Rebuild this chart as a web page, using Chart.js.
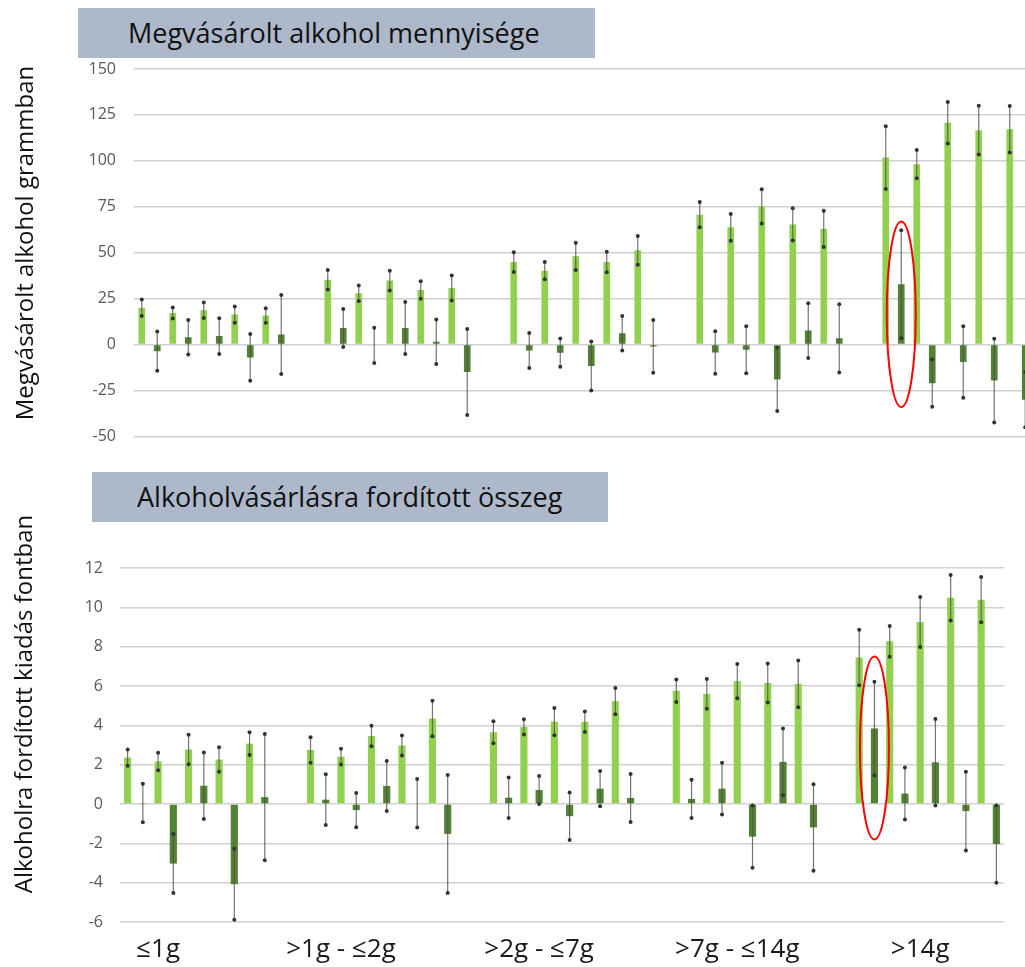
<!DOCTYPE html>
<html>
<head>
<meta charset="utf-8">
<script src="https://cdn.jsdelivr.net/npm/chart.js@4.4.1/dist/chart.umd.min.js"></script>
<style>
  html, body { margin: 0; padding: 0; background: #fff; }
  body { width: 1025px; height: 967px; overflow: hidden; position: relative; font-family: "Open Sans", sans-serif; }
  canvas { position: absolute; left: 0; }
  #amountChart { top: 0; }
  #spendChart { top: 460px; }
  .titleBox { position: absolute; background: #adb9ca; color: #111; font-size: 27px; height: 50px; line-height: 50px; white-space: nowrap; z-index: 2; }
  .axisTitle { position: absolute; transform: translate(-50%, -50%) rotate(-90deg); white-space: nowrap; color: #111; z-index: 2; font-size: 24px; }
</style>
</head>
<body>
<div class="titleBox" style="left:78px; top:8px; width:467px; padding-left:50px;">Megvásárolt alkohol mennyisége</div>
<div class="titleBox" style="left:92px; top:472px; width:471px; padding-left:45px;">Alkoholvásárlásra fordított összeg</div>
<div class="axisTitle" style="left:23px; top:243px;">Megvásárolt alkohol grammban</div>
<div class="axisTitle" style="left:22px; top:704px;">Alkoholra fordított kiadás fontban</div>

<canvas id="amountChart" width="1040" height="464" style="width:1040px;height:464px"></canvas>
<canvas id="spendChart" width="1025" height="507" style="width:1025px;height:507px"></canvas>

<script>
// group labels (x axis)
const groupLabels = ["≤1g", ">1g - ≤2g", ">2g - ≤7g", ">7g - ≤14g", ">14g"];

// top panel: alcohol bought (grams), 5 pairs per group
const amountLight = [
  20, 17.2, 18.7, 16.3, 15.8,
  35.3, 27.9, 34.8, 29.7, 30.8,
  44.9, 40.2, 48, 44.9, 51.3,
  70.7, 63.8, 75.2, 65.4, 63,
  101.8, 98.2, 120.7, 116.7, 117.2
];
const amountLightErr = [
  4.5, 3, 4.2, 4.4, 3.9,
  5.3, 4.2, 5.4, 4.8, 6.8,
  5.4, 4.7, 7.4, 5.6, 7.8,
  6.9, 7.3, 9.3, 8.8, 9.9,
  17.1, 7.7, 11.3, 13.3, 12.6
];
const amountDark = [
  -3.6, 4, 4.6, -7, 5.5,
  9, -0.4, 9, 1.5, -15,
  -3.2, -4.4, -11.7, 6.2, -1,
  -4.3, -2.8, -19, 7.6, 3.4,
  32.8, -21, -9.5, -19.6, -30
];
const amountDarkErr = [
  10.7, 9.4, 9.7, 12.7, 21.5,
  10.4, 9.6, 14.2, 12.1, 23.4,
  9.5, 7.7, 13.3, 9.4, 14.3,
  11.6, 12.8, 17.2, 14.9, 18.6,
  29.4, 12.9, 19.5, 22.8, 15
];

// bottom panel: money spent (pounds)
const spendLight = [
  2.36, 2.16, 2.77, 2.26, 3.07,
  2.75, 2.41, 3.46, 2.97, 4.35,
  3.65, 3.92, 4.19, 4.18, 5.23,
  5.76, 5.6, 6.25, 6.15, 6.11,
  7.45, 8.27, 9.25, 10.49, 10.39
];
const spendLightErr = [
  0.41, 0.45, 0.75, 0.62, 0.58,
  0.65, 0.4, 0.52, 0.51, 0.9,
  0.56, 0.39, 0.69, 0.52, 0.67,
  0.57, 0.76, 0.87, 0.99, 1.19,
  1.41, 0.78, 1.27, 1.16, 1.15
];
const spendDark = [
  0.05, -3.03, 0.93, -4.08, 0.35,
  0.22, -0.31, 0.92, 0.04, -1.52,
  0.32, 0.71, -0.62, 0.78, 0.31,
  0.26, 0.78, -1.66, 2.14, -1.19,
  3.84, 0.53, 2.12, -0.36, -2.04
];
const spendDarkErr = [
  0.98, 1.5, 1.69, 1.8, 3.21,
  1.29, 0.87, 1.27, 1.23, 3.0,
  1.03, 0.71, 1.21, 0.9, 1.22,
  0.97, 1.32, 1.58, 1.7, 2.2,
  2.38, 1.32, 2.2, 2.0, 1.96
];

// y ranges
const amountTicks = { min: -50, max: 150, step: 25 };
const spendTicks = { min: -6, max: 12, step: 2 };

// circled bar (value range of the red ellipse)
const amountHighlight = { group: 4, pair: 0, from: -34, to: 67 };
const spendHighlight = { group: 4, pair: 0, from: -1.8, to: 7.5 };

/* ---------- layout helpers ---------- */
const LIGHT = "#92d050";
const DARK = "#548235";
const SLOTS_PER_GROUP = 12;
const SLOTS = 58;
const labelSlot = [2, 14, 27, 40, 52];

Chart.defaults.font.family = "'Open Sans', sans-serif";

function toSlots(values, offset) {
  const out = new Array(SLOTS).fill(null);
  values.forEach((v, i) => {
    const g = Math.floor(i / 5);
    const k = i % 5;
    out[g * SLOTS_PER_GROUP + k * 2 + offset] = v;
  });
  return out;
}

function slotLabels(withText) {
  const out = new Array(SLOTS).fill("");
  if (withText) groupLabels.forEach((l, g) => { out[labelSlot[g]] = l; });
  return out;
}

const errorBars = {
  id: "errorBars",
  afterDatasetsDraw(chart, args, opts) {
    const ctx = chart.ctx;
    const y = chart.scales.y;
    chart.data.datasets.forEach((ds, i) => {
      const meta = chart.getDatasetMeta(i);
      meta.data.forEach((bar, j) => {
        const v = ds.data[j];
        if (v === null) return;
        const e = ds.errors[j];
        const top = y.getPixelForValue(v + e);
        const bottom = y.getPixelForValue(v - e);
        ctx.save();
        ctx.strokeStyle = "rgba(80,80,80,0.8)";
        ctx.lineWidth = 1.2;
        ctx.beginPath();
        ctx.moveTo(bar.x, top);
        ctx.lineTo(bar.x, bottom);
        ctx.stroke();
        ctx.fillStyle = "#333";
        [top, bottom].forEach(py => {
          ctx.beginPath();
          ctx.arc(bar.x, py, 2, 0, Math.PI * 2);
          ctx.fill();
        });
        ctx.restore();
      });
    });

    const hl = opts.highlight;
    if (hl) {
      const slot = hl.group * SLOTS_PER_GROUP + hl.pair * 2 + 1;
      const bar = chart.getDatasetMeta(1).data[slot];
      const yTop = y.getPixelForValue(hl.to);
      const yBot = y.getPixelForValue(hl.from);
      ctx.save();
      ctx.strokeStyle = "#ff0000";
      ctx.lineWidth = 2;
      ctx.beginPath();
      ctx.ellipse(bar.x, (yTop + yBot) / 2, 14.5, (yBot - yTop) / 2, 0, 0, Math.PI * 2);
      ctx.stroke();
      ctx.restore();
    }
  }
};

function makeChart(id, cfg) {
  return new Chart(document.getElementById(id), {
    type: "bar",
    data: {
      labels: slotLabels(cfg.showX),
      datasets: [
        {
          data: toSlots(cfg.light, 0),
          errors: toSlots(cfg.lightErr, 0),
          backgroundColor: LIGHT,
          grouped: false,
          categoryPercentage: 1,
          barPercentage: cfg.barPct
        },
        {
          data: toSlots(cfg.dark, 1),
          errors: toSlots(cfg.darkErr, 1),
          backgroundColor: DARK,
          grouped: false,
          categoryPercentage: 1,
          barPercentage: cfg.barPct
        }
      ]
    },
    options: {
      responsive: false,
      animation: false,
      layout: { padding: cfg.padding },
      plugins: {
        legend: { display: false },
        tooltip: { enabled: false },
        errorBars: { highlight: cfg.highlight }
      },
      scales: {
        x: {
          display: cfg.showX,
          grid: { display: false },
          border: { display: false },
          ticks: {
            autoSkip: false,
            maxRotation: 0,
            minRotation: 0,
            padding: 4,
            color: "#1a1a1a",
            font: { size: 26 }
          },
          afterFit: s => { if (cfg.showX) s.height = 45; }
        },
        y: {
          min: cfg.ticks.min,
          max: cfg.ticks.max,
          ticks: {
            stepSize: cfg.ticks.step,
            padding: cfg.tickPad,
            color: "#595959",
            font: { size: 16 }
          },
          grid: { color: "#d0d0d0", lineWidth: 1.5, drawTicks: false },
          border: { display: false },
          afterFit: s => { s.width = cfg.yWidth; }
        }
      }
    },
    plugins: [errorBars]
  });
}

makeChart("amountChart", {
  light: amountLight, lightErr: amountLightErr,
  dark: amountDark, darkErr: amountDarkErr,
  ticks: amountTicks, highlight: amountHighlight,
  showX: false, barPct: 0.43, yWidth: 134, tickPad: 18,
  padding: { top: 69, bottom: 0, left: 0, right: 7 }
});

makeChart("spendChart", {
  light: spendLight, lightErr: spendLightErr,
  dark: spendDark, darkErr: spendDarkErr,
  ticks: spendTicks, highlight: spendHighlight,
  showX: true, barPct: 0.47, yWidth: 120, tickPad: 17,
  padding: { top: 108, bottom: 0, left: 0, right: 21 }
});
</script>
</body>
</html>
